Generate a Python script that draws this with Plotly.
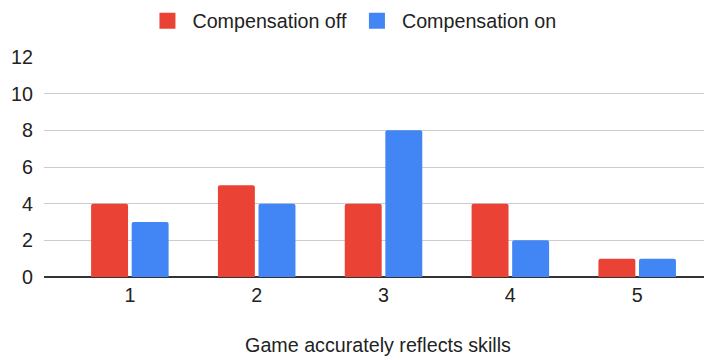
import plotly.graph_objects as go

categories = ["1", "2", "3", "4", "5"]
comp_off = [4, 5, 4, 4, 1]
comp_on = [3, 4, 8, 2, 1]
series_names = ["Compensation off", "Compensation on"]
colors = ["#EA4335", "#4285F4"]
y_ticks = [0, 2, 4, 6, 8, 10, 12]

FONT = "Arial, Liberation Sans, sans-serif"
FS = 19.7

fig = go.Figure()
for name, vals, col in zip(series_names, [comp_off, comp_on], colors):
    fig.add_trace(go.Bar(x=categories, y=vals, name=name, showlegend=False,
                         legendgroup=name,
                         marker=dict(color=col, line=dict(width=0), cornerradius=2)))
# legend entries with larger square symbols
for name, col in zip(series_names, colors):
    fig.add_trace(go.Scatter(x=[None], y=[None], mode="markers", name=name,
                             legendgroup=name,
                             marker=dict(symbol="square", size=16, color=col)))

fig.update_layout(
    width=704, height=352,
    margin=dict(l=36, r=0, t=49, b=83, autoexpand=False),
    paper_bgcolor="white", plot_bgcolor="white",
    font=dict(family=FONT, size=FS, color="#222222"),
    barmode="group", bargap=0.36, bargroupgap=0.09,
    showlegend=True,
    legend=dict(orientation="h", x=0.461, xanchor="center", y=1.164, yanchor="middle",
                font=dict(size=FS, color="#222222"), itemsizing="trace",
                traceorder="normal", itemwidth=40),
    xaxis=dict(type="category", range=[-0.677, 4.59], showgrid=False, ticks="",
               title=dict(text="Game accurately reflects skills", standoff=33,
                          font=dict(size=FS, color="#222222")),
               tickfont=dict(size=FS, color="#222222"), ticklabelstandoff=4,
               showline=False, zeroline=False),
    yaxis=dict(range=[0, 12], tickvals=y_ticks, showgrid=True, gridcolor="#cccccc",
               gridwidth=1, zeroline=True, zerolinecolor="#333333", zerolinewidth=1.5,
               tickfont=dict(size=FS, color="#222222"), ticks="", ticklabelstandoff=10,
               showline=False),
)

fig.write_html("out.html")
